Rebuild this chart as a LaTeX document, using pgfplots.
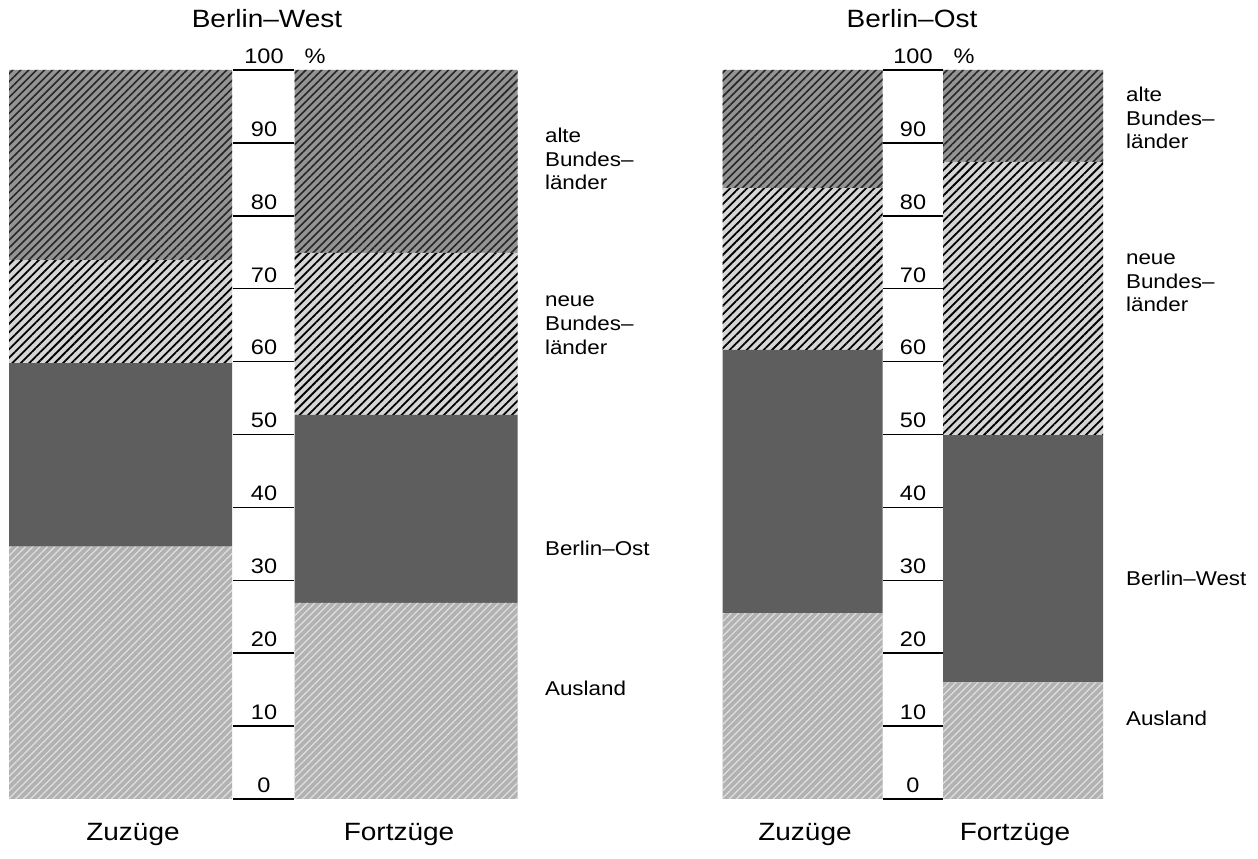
\documentclass[border=0pt]{standalone}
\usepackage{fontspec}
\setmainfont{Liberation Sans}[FakeStretch=1.12]
\usepackage{pgfplots}
\pgfplotsset{compat=1.18}
\usetikzlibrary{patterns.meta}

% x runs in pixels of the original (0..1258), y in percent
\pgfplotsset{
  panel/.style={
    scale only axis, width=629pt, height=364.5pt,
    xmin=0, xmax=1258, ymin=0, ymax=100,
    hide axis, clip=false, ybar stacked,
    at={(0,0)}, anchor=south west,
  },
  ausland/.style={fill=black!30, draw=none,
    postaction={pattern={Lines[angle=45,distance=2.6pt,line width=0.6pt]}, pattern color=black!12}},
  berlin/.style={fill=black!63, draw=none},
  neue/.style={fill=black!16, draw=none,
    postaction={pattern={Lines[angle=45,distance=3pt,line width=0.9pt]}, pattern color=black}},
  alte/.style={fill=black!42, draw=none,
    postaction={pattern={Lines[angle=45,distance=2.8pt,line width=0.8pt]}, pattern color=black!85}},
}
\newcommand{\numfont}{\fontsize{10.5}{12}\selectfont}
\newcommand{\lblfont}{\fontsize{10}{11.8}\selectfont}
\newcommand{\bigfont}{\fontsize{12.5}{15}\selectfont}

\begin{document}
\begin{tikzpicture}
% ---- Berlin-West
\begin{axis}[panel, bar width=223]
\addplot[ausland] coordinates {(120.5,34.6) (406,26.9)};
\addplot[berlin]  coordinates {(120.5,25.2) (406,25.8)};
\addplot[neue]    coordinates {(120.5,14.1) (406,22.2)};
\addplot[alte]    coordinates {(120.5,26.1) (406,25.1)};

\pgfplotsinvokeforeach{0,10,...,100}{
  \draw[line width=0.75pt] (axis cs:233,#1) -- (axis cs:294,#1);
  \node[anchor=base, font=\numfont, yshift=3.3pt] at (axis cs:264,#1) {#1};
}
\node[anchor=base, font=\numfont, yshift=3.3pt] at (axis cs:315,100) {\%};
\node[font=\bigfont] at (axis cs:267,107.1) {Berlin--West};
\node[font=\bigfont] at (axis cs:133,-4.9) {Zuzüge};
\node[font=\bigfont] at (axis cs:399,-4.9) {Fortzüge};

\node[anchor=west, align=left, font=\lblfont] at (axis cs:538,87.8) {alte\\Bundes--\\länder};
\node[anchor=west, align=left, font=\lblfont] at (axis cs:538,65.0) {neue\\Bundes--\\länder};
\node[anchor=west, font=\lblfont] at (axis cs:538,34.4) {Berlin--Ost};
\node[anchor=west, font=\lblfont] at (axis cs:538,15.2) {Ausland};

\path (axis cs:0,-8.23) rectangle (axis cs:1258,109.6);
\end{axis}

% ---- Berlin-Ost
\begin{axis}[panel, bar width=160]
\addplot[ausland] coordinates {(802.5,25.5) (1023,16.0)};
\addplot[berlin]  coordinates {(802.5,36.1) (1023,33.9)};
\addplot[neue]    coordinates {(802.5,22.2) (1023,37.5)};
\addplot[alte]    coordinates {(802.5,16.2) (1023,12.6)};

\pgfplotsinvokeforeach{0,10,...,100}{
  \draw[line width=0.75pt] (axis cs:883,#1) -- (axis cs:943,#1);
  \node[anchor=base, font=\numfont, yshift=3.3pt] at (axis cs:913,#1) {#1};
}
\node[anchor=base, font=\numfont, yshift=3.3pt] at (axis cs:964,100) {\%};
\node[font=\bigfont] at (axis cs:912,107.1) {Berlin--Ost};
\node[font=\bigfont] at (axis cs:805,-4.9) {Zuzüge};
\node[font=\bigfont] at (axis cs:1015,-4.9) {Fortzüge};

\node[anchor=west, align=left, font=\lblfont] at (axis cs:1119,93.4) {alte\\Bundes--\\länder};
\node[anchor=west, align=left, font=\lblfont] at (axis cs:1119,70.8) {neue\\Bundes--\\länder};
\node[anchor=west, font=\lblfont] at (axis cs:1119,30.3) {Berlin--West};
\node[anchor=west, font=\lblfont] at (axis cs:1119,11.1) {Ausland};
\end{axis}
\end{tikzpicture}
\end{document}
